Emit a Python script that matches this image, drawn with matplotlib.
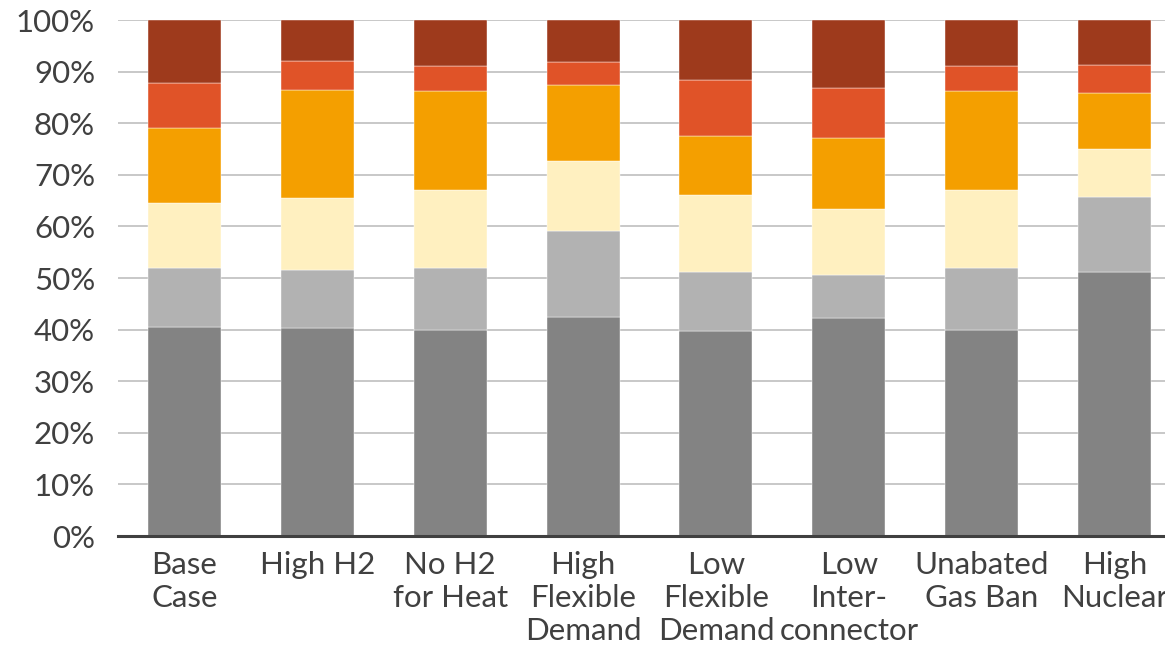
import matplotlib
matplotlib.use("Agg")
import matplotlib.pyplot as plt
import numpy as np
from matplotlib.ticker import PercentFormatter

plt.rcParams['font.family'] = ['Lato', 'DejaVu Sans']

# Scenario names (x-axis)
scenarios = [
    "Base\nCase", "High H2", "No H2\nfor Heat", "High\nFlexible\nDemand",
    "Low\nFlexible\nDemand", "Low\nInter-\nconnector", "Unabated\nGas Ban",
    "High\nNuclear",
]

# Share of each layer in every scenario, in percent (bottom to top)
layer_1 = [40.6, 40.4, 40.0, 42.4, 39.8, 42.2, 40.0, 51.2]
layer_2 = [11.3, 11.2, 11.9, 16.8, 11.4, 8.4, 11.9, 14.5]
layer_3 = [12.6, 13.9, 15.1, 13.5, 14.8, 12.8, 15.1, 9.3]
layer_4 = [14.6, 21.0, 19.2, 14.7, 11.5, 13.7, 19.2, 10.9]
layer_5 = [8.7, 5.6, 4.8, 4.5, 10.8, 9.7, 4.8, 5.4]
layer_6 = [12.2, 7.9, 9.0, 8.1, 11.7, 13.2, 9.0, 8.7]

layers = [layer_1, layer_2, layer_3, layer_4, layer_5, layer_6]
colors = ["#838383", "#b2b2b2", "#fff0c0", "#f49f00", "#e05328", "#9e3a1c"]

text_color = "#404040"

fig = plt.figure(figsize=(11.65, 6.46), dpi=100)
ax = fig.add_axes([118 / 1165, 1 - 536 / 646, 1063 / 1165, 516 / 646])

x = np.arange(len(scenarios))
bottom = np.zeros(len(scenarios))
for vals, col in zip(layers, colors):
    v = np.array(vals)
    ax.bar(x, v, bottom=bottom, width=0.55, color=col, zorder=3,
           edgecolor="white", linewidth=0.3)
    bottom += v

ax.set_xlim(-0.5, len(scenarios) - 0.5)
ax.set_ylim(0, 100)
ax.set_yticks(np.arange(0, 101, 10))
ax.yaxis.set_major_formatter(PercentFormatter(decimals=0))
ax.set_xticks(x)
ax.set_xticklabels(scenarios, linespacing=1.22)

ax.grid(axis="y", color="#c8c8c8", linewidth=1.4, zorder=0)
for side in ["left", "right", "top"]:
    ax.spines[side].set_visible(False)
ax.spines["bottom"].set_color(text_color)
ax.spines["bottom"].set_linewidth(2.2)
ax.spines["bottom"].set_zorder(4)

ax.tick_params(axis="both", length=0, labelsize=22.5, labelcolor=text_color)
ax.tick_params(axis="y", pad=16.5)
ax.tick_params(axis="x", pad=11)

fig.savefig("out.png", dpi=100)
